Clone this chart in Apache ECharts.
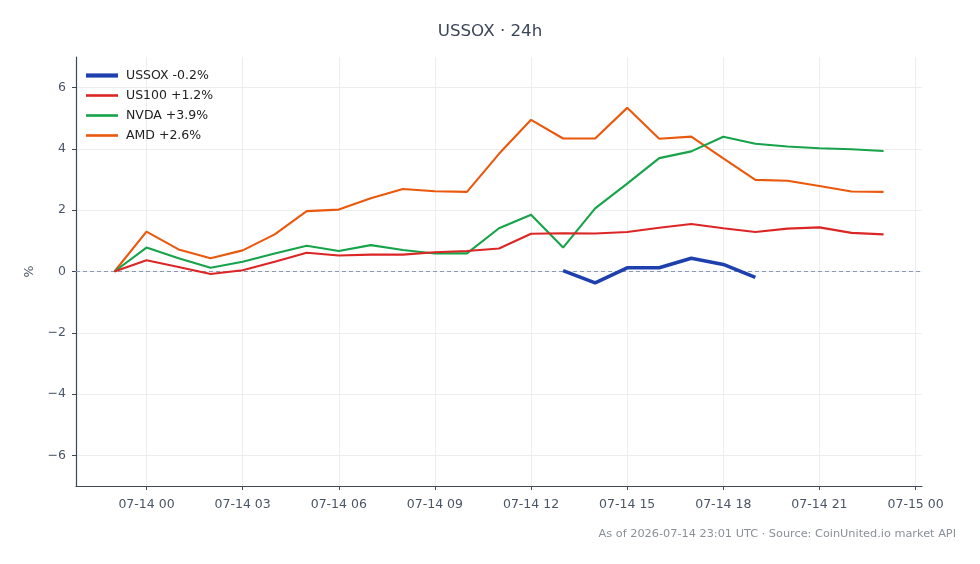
<!DOCTYPE html>
<html>
<head>
<meta charset="utf-8">
<title>USSOX 24h</title>
<script src="https://cdn.jsdelivr.net/npm/echarts@6/dist/echarts.min.js"></script>
<style>
    html, body { margin: 0; padding: 0; background: #fff; }
    #main { width: 980px; height: 564px; }
</style>
</head>
<body>
<div id="main"></div>
<script>
// hours relative to 2026-07-14 00:00 UTC
var hours = [-1, 0, 1, 2, 3, 4, 5, 6, 7, 8, 9, 10, 11, 12, 13, 14, 15, 16, 17, 18, 19, 20, 21, 22, 23];

var ussox = [null, null, null, null, null, null, null, null, null, null, null, null, null, null,
             0.03, -0.37, 0.12, 0.12, 0.43, 0.23, -0.19, null, null, null, null];
var us100 = [0, 0.37, 0.15, -0.08, 0.04, 0.32, 0.61, 0.52, 0.55, 0.55, 0.63, 0.67, 0.75,
             1.23, 1.25, 1.24, 1.29, 1.43, 1.55, 1.41, 1.29, 1.40, 1.44, 1.26, 1.21];
var nvda = [0, 0.78, 0.43, 0.12, 0.32, 0.59, 0.84, 0.67, 0.86, 0.70, 0.59, 0.59, 1.41,
            1.85, 0.78, 2.06, 2.87, 3.70, 3.92, 4.40, 4.17, 4.08, 4.02, 3.99, 3.93];
var amd = [0, 1.30, 0.72, 0.43, 0.69, 1.21, 1.97, 2.02, 2.39, 2.69, 2.62, 2.60, 3.84,
           4.95, 4.34, 4.34, 5.34, 4.33, 4.40, 3.69, 2.99, 2.96, 2.79, 2.61, 2.60];

var seriesNames = ['USSOX -0.2%', 'US100 +1.2%', 'NVDA +3.9%', 'AMD +2.6%'];
var seriesColors = ['#1e40af', '#dc2626', '#16a34a', '#ea580c'];

var xTickValues = [0, 3, 6, 9, 12, 15, 18, 21, 24];
var xTickLabels = ['07-14 00', '07-14 03', '07-14 06', '07-14 09', '07-14 12',
                   '07-14 15', '07-14 18', '07-14 21', '07-15 00'];
var yTickValues = [-6, -4, -2, 0, 2, 4, 6];

var FONT = 'DejaVu Sans';

function pairs(vals) {
    var out = [];
    for (var i = 0; i < hours.length; i++) {
        out.push([hours[i], vals[i] == null ? null : vals[i]]);
    }
    return out;
}

function fmtY(v) {
    return v < 0 ? '\u2212' + Math.abs(v) : String(v);
}

var myChart = echarts.init(document.getElementById('main'));

var allData = [ussox, us100, nvda, amd];
var widths = [3.6, 2.1, 2.1, 2.1];
var legendIcons = ['path://M0,0H32V4.2H0Z', 'path://M0,0H32V2.6H0Z', 'path://M0,0H32V2.6H0Z', 'path://M0,0H32V2.6H0Z'];
var series = [];
var legendData = [];
for (var s = 0; s < allData.length; s++) {
    series.push({
        name: seriesNames[s],
        type: 'line',
        data: pairs(allData[s]),
        symbol: 'none',
        connectNulls: false,
        z: 10 - s,
        lineStyle: { width: widths[s], color: seriesColors[s] },
        itemStyle: { color: seriesColors[s] }
    });
    legendData.push({ name: seriesNames[s], icon: legendIcons[s] });
}
// dashed zero line
series[1].markLine = {
    silent: true,
    symbol: 'none',
    label: { show: false },
    lineStyle: { color: '#8a9ab3', type: [4, 3], width: 1 },
    data: [{ yAxis: 0 }]
};

var option = {
    animation: false,
    backgroundColor: '#ffffff',
    title: {
        text: 'USSOX \u00b7 24h',
        left: 'center',
        top: 18,
        textStyle: { fontFamily: FONT, fontSize: 16.7, fontWeight: 'normal', color: '#3a4658' }
    },
    legend: {
        orient: 'vertical',
        left: 81,
        top: 64,
        itemWidth: 32,
        itemHeight: 14,
        itemGap: 7,
        textStyle: { fontFamily: FONT, fontSize: 12.5, color: '#222222', padding: [0, 0, 0, 3] },
        data: legendData
    },
    grid: { left: 76, right: 58, top: 57, bottom: 78, containLabel: false },
    xAxis: {
        type: 'value',
        min: -2.2,
        max: 24.2,
        axisLine: { show: true, onZero: false, lineStyle: { color: '#3d4756', width: 1.2 } },
        axisTick: { show: true, length: 4, customValues: xTickValues, lineStyle: { color: '#3d4756' } },
        axisLabel: {
            customValues: xTickValues,
            margin: 12,
            fontFamily: FONT, fontSize: 12.5, color: '#4a5566',
            formatter: function (v) { return xTickLabels[xTickValues.indexOf(v)]; }
        },
        splitLine: { show: true, lineStyle: { color: '#e8e8e8', width: 0.8 } }
    },
    yAxis: {
        type: 'value',
        min: -7,
        max: 7,
        name: '%',
        nameLocation: 'middle',
        nameGap: 40,
        nameTextStyle: { fontFamily: FONT, fontSize: 12.5, color: '#4a5566' },
        axisLine: { show: true, onZero: false, lineStyle: { color: '#3d4756', width: 1.2 } },
        axisTick: { show: true, length: 4, customValues: yTickValues, lineStyle: { color: '#3d4756' } },
        axisLabel: {
            customValues: yTickValues,
            margin: 10,
            fontFamily: FONT, fontSize: 12.5, color: '#4a5566',
            formatter: fmtY
        },
        splitLine: { show: true, lineStyle: { color: '#e8e8e8', width: 0.8 } }
    },
    graphic: [{
        type: 'text',
        right: 24,
        top: 529,
        style: {
            text: 'As of 2026-07-14 23:01 UTC \u00b7 Source: CoinUnited.io market API',
            font: '11.3px "DejaVu Sans"',
            fill: '#8a9099'
        }
    }],
    series: series
};
myChart.setOption(option);
</script>
</body>
</html>
